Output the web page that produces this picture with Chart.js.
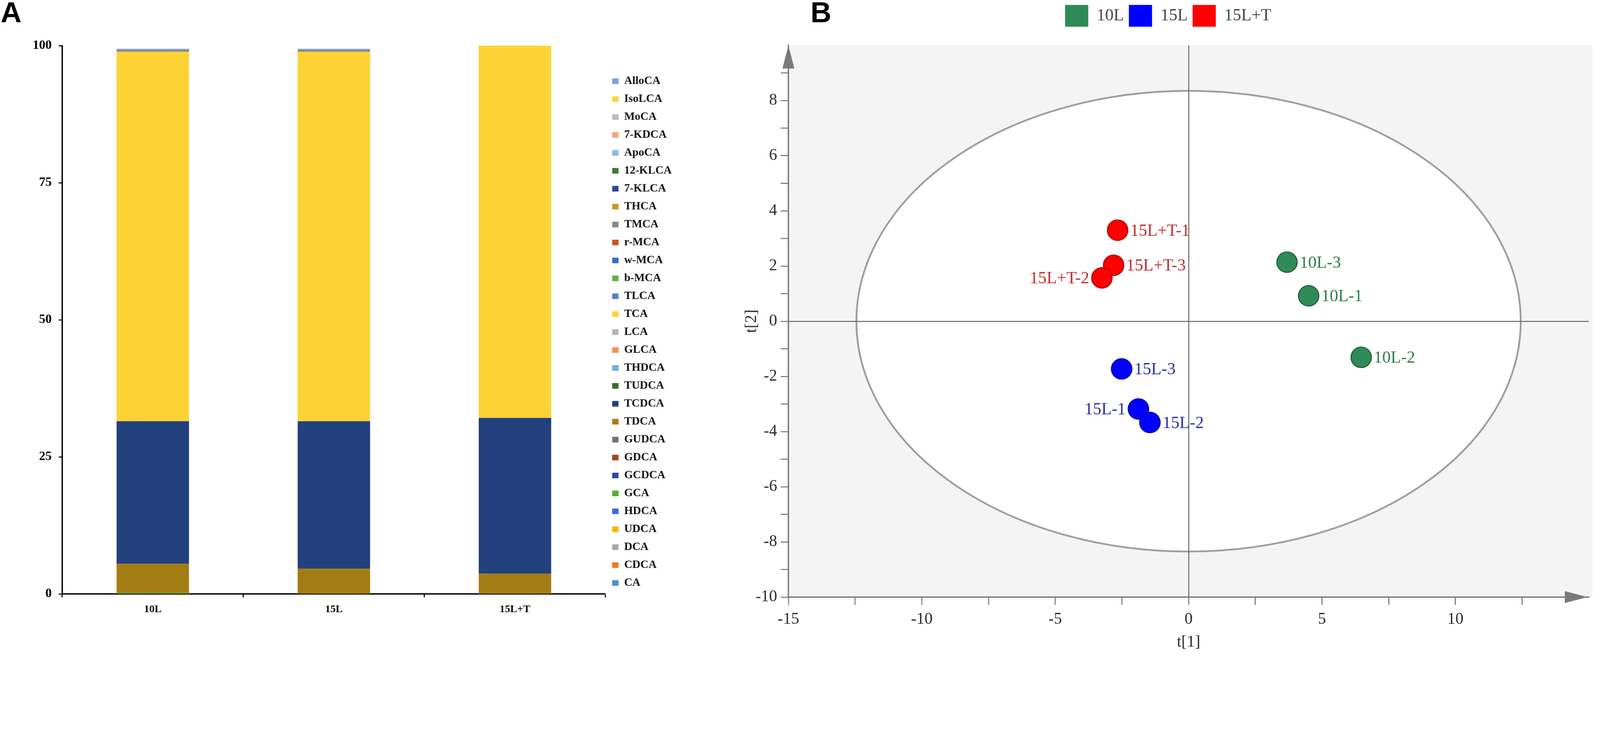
<!DOCTYPE html>
<html>
<head>
<meta charset="utf-8">
<script src="https://cdn.jsdelivr.net/npm/chart.js@4.4.0/dist/chart.umd.min.js"></script>
<style>
html,body{margin:0;padding:0;background:#fff;overflow:hidden}
#wrap{position:absolute;left:0;top:0;width:4550px;height:1870px;transform-origin:0 0}
canvas{position:absolute;top:0}
#chartA{left:0}
#chartB{left:2110px}
.panel{position:absolute;font-family:'Liberation Sans',Arial,sans-serif;font-weight:bold;font-size:82px;line-height:1}
</style>
</head>
<body>
<div id="wrap">
<div class="panel" style="left:2px;top:-6px">A</div>
<div class="panel" style="left:2305px;top:-6px">B</div>
<canvas id="chartA" width="1920" height="1870"></canvas>
<canvas id="chartB" width="2440" height="1870"></canvas>
</div>
<script>
// fit the 4550x1870 layout into whatever viewport we get
const fitK = Math.min(window.innerWidth / 4550, window.innerHeight / 1870)
document.getElementById('wrap').style.transform = 'scale(' + fitK + ')'

// ---- panel A data (stack order: bottom -> top)
const groups = ['10L', '15L', '15L+T']

const acids = [
  'CA','CDCA','DCA','UDCA','HDCA','GCA','GCDCA','GDCA','GUDCA','TDCA',
  'TCDCA','TUDCA','THDCA','GLCA','LCA','TCA','TLCA','b-MCA','w-MCA','r-MCA',
  'TMCA','THCA','7-KLCA','12-KLCA','ApoCA','7-KDCA','MoCA','IsoLCA','AlloCA'
]

const acidColors = [
  '#4a8fd0','#f07a22','#a8a8a8','#f5b800','#3f6ad8','#5aa83a','#2e4c9c','#a04a1a','#727272','#a47c14',
  '#22407c','#3f6a30','#6aaee0','#f0945a','#b4b4b4','#fdd235','#5b80cc','#6aac48','#2f6fc8','#d2541c',
  '#888888','#c09a20','#2a4a9a','#3d7a3d','#8fb8e6','#f0a880','#bcbcbc','#f5d640','#7aa0d8'
]

const share10L = [
  0,0,0,0,0,0.15,0,0,0,5.35,
  26.0,0,0,0,0,67.4,0,0,0,0,
  0.4,0,0,0,0.15,0,0,0,0
]
const share15L = [
  0,0,0,0,0,0,0,0,0,4.6,
  26.9,0,0,0,0,67.4,0,0,0,0,
  0.4,0,0,0,0.15,0,0,0,0
]
const share15LT = [
  0,0,0,0,0,0,0,0,0,3.7,
  28.4,0,0,0,0,67.9,0,0,0,0,
  0,0,0,0,0,0,0,0,0
]

// ---- panel B data (scores t[1], t[2])
const names10L = ['10L-1','10L-2','10L-3']
const t1_10L = [4.50, 6.47, 3.69]
const t2_10L = [0.92, -1.31, 2.14]

const names15L = ['15L-3','15L-1','15L-2']
const t1_15L = [-2.51, -1.88, -1.45]
const t2_15L = [-1.73, -3.18, -3.67]

const names15LT = ['15L+T-1','15L+T-3','15L+T-2']
const t1_15LT = [-2.66, -2.81, -3.25]
const t2_15LT = [3.30, 2.03, 1.57]

// Hotelling T2 ellipse semi axes
const ellipseT1 = 12.45
const ellipseT2 = 8.35

const leftLabelled = ['15L+T-2','15L-1']

Chart.defaults.font.family = '"Liberation Serif", "Times New Roman", serif'
Chart.defaults.animation = false

// 柱状图
const ctxA = document.getElementById('chartA')

new Chart(ctxA, {
  type:'bar',
  data:{
    labels: groups,
    datasets: acids.map((name, i) => ({
      label: name,
      data: [share10L[i], share15L[i], share15LT[i]],
      backgroundColor: acidColors[i],
      borderWidth: 0,
      barPercentage: 0.4,
      categoryPercentage: 1
    }))
  },
  options:{
    responsive:false,
    devicePixelRatio:1,
    layout:{ padding:{ top:130, bottom:110 } },
    plugins:{
      tooltip:{ enabled:false },
      legend:{
        position:'right',
        reverse:true,
        labels:{
          boxWidth:18,
          boxHeight:16,
          padding:19,
          color:'#111',
          font:{ size:32, weight:'bold' }
        }
      }
    },
    scales:{
      x:{
        stacked:true,
        grid:{ drawOnChartArea:false, color:'#000', tickLength:10, tickWidth:3 },
        border:{ color:'#000', width:4 },
        ticks:{ color:'#000', padding:16, font:{ size:30, weight:'bold' } },
        afterFit(s){ s.height = 70 }
      },
      y:{
        stacked:true,
        min:0,
        max:100,
        grid:{ drawOnChartArea:false, color:'#000', tickLength:10, tickWidth:3 },
        border:{ color:'#000', width:4 },
        ticks:{ stepSize:25, color:'#000', padding:20, font:{ size:36, weight:'bold' } },
        afterFit(s){ s.width = 177 }
      }
    }
  }
})

// 得分图
const legendGap = {
  id:'legendGap',
  afterInit(chart){
    const fit = chart.legend.fit
    chart.legend.fit = function(){
      fit.call(this)
      this.height += 43
    }
  }
}

const ellipseBg = {
  id:'ellipseBg',
  beforeDraw(chart){
    const {ctx, chartArea:a, scales} = chart
    const cx = scales.x.getPixelForValue(0)
    const cy = scales.y.getPixelForValue(0)
    const rx = scales.x.getPixelForValue(ellipseT1) - cx
    const ry = cy - scales.y.getPixelForValue(ellipseT2)
    ctx.save()
    ctx.fillStyle = '#f4f4f4'
    ctx.fillRect(a.left, a.top, a.right - a.left + 10, a.bottom - a.top)
    ctx.beginPath()
    ctx.ellipse(cx, cy, rx, ry, 0, 0, Math.PI * 2)
    ctx.fillStyle = '#fff'
    ctx.fill()
    ctx.lineWidth = 5
    ctx.strokeStyle = '#9c9c9c'
    ctx.stroke()
    ctx.restore()
  },
  afterDraw(chart){
    const {ctx, chartArea:a} = chart
    ctx.save()
    ctx.fillStyle = '#7a7a7a'
    ctx.beginPath()
    ctx.moveTo(a.left, a.top)
    ctx.lineTo(a.left - 17, a.top + 66)
    ctx.lineTo(a.left + 17, a.top + 66)
    ctx.closePath()
    ctx.fill()
    ctx.beginPath()
    ctx.moveTo(a.right - 4, a.bottom)
    ctx.lineTo(a.right - 68, a.bottom - 17)
    ctx.lineTo(a.right - 68, a.bottom + 17)
    ctx.closePath()
    ctx.fill()
    ctx.restore()
  }
}

const pointLabels = {
  id:'pointLabels',
  afterDatasetsDraw(chart){
    const ctx = chart.ctx
    ctx.save()
    ctx.font = '48px "Liberation Serif"'
    ctx.textBaseline = 'middle'
    chart.data.datasets.forEach((ds, di) => {
      chart.getDatasetMeta(di).data.forEach((pt, i) => {
        const name = ds.names[i]
        const left = leftLabelled.includes(name)
        ctx.fillStyle = ds.textColor
        ctx.textAlign = left ? 'right' : 'left'
        ctx.fillText(name, pt.x + (left ? -36 : 36), pt.y + 3)
      })
    })
    ctx.restore()
  }
}

const toPoints = (xs, ys) => xs.map((x, i) => ({ x: x, y: ys[i] }))

const ctxB = document.getElementById('chartB')

new Chart(ctxB, {
  type:'scatter',
  data:{
    datasets:[
      {
        label:'10L',
        names:names10L,
        data:toPoints(t1_10L, t2_10L),
        backgroundColor:'#2e8b57',
        borderColor:'#1e5e3a',
        textColor:'#2e7a4e'
      },
      {
        label:'15L',
        names:names15L,
        data:toPoints(t1_15L, t2_15L),
        backgroundColor:'#0000ff',
        borderColor:'#0000a8',
        textColor:'#2b2ba8'
      },
      {
        label:'15L+T',
        names:names15LT,
        data:toPoints(t1_15LT, t2_15LT),
        backgroundColor:'#ff0000',
        borderColor:'#b00000',
        textColor:'#c42a2a'
      }
    ]
  },
  options:{
    responsive:false,
    devicePixelRatio:1,
    layout:{ padding:{ right:16 } },
    elements:{ point:{ radius:29, borderWidth:3, hoverRadius:29 } },
    plugins:{
      tooltip:{ enabled:false },
      legend:{
        position:'top',
        labels:{
          boxWidth:66,
          boxHeight:62,
          padding:14,
          color:'#444',
          font:{ size:48 },
          generateLabels(chart){
            return Chart.defaults.plugins.legend.labels.generateLabels(chart)
              .map(l => Object.assign(l, { lineWidth:0 }))
          }
        }
      }
    },
    scales:{
      x:{
        type:'linear',
        min:-15,
        max:15,
        grid:{
          color: c => c.tick && c.tick.value === 0 ? '#6e6e6e' : 'rgba(0,0,0,0)',
          lineWidth:3,
          tickColor: c => c.tick && c.tick.value === 15 ? 'rgba(0,0,0,0)' : '#7a7a7a',
          tickLength:22,
          tickWidth:3
        },
        border:{ color:'#7a7a7a', width:4 },
        ticks:{
          stepSize:2.5,
          color:'#2a2a2a',
          padding:14,
          font:{ size:46 },
          callback: v => (v % 5 === 0 && v !== 15) ? v : ''
        },
        title:{ display:true, text:'t[1]', color:'#2a2a2a', font:{ size:46 }, padding:{ top:0, bottom:14 } },
        afterFit(s){ s.height = 171 }
      },
      y:{
        min:-10,
        max:10,
        grid:{
          color: c => c.tick && c.tick.value === 0 ? '#6e6e6e' : 'rgba(0,0,0,0)',
          lineWidth:3,
          tickColor: c => c.tick && c.tick.value === 10 ? 'rgba(0,0,0,0)' : '#7a7a7a',
          tickLength:22,
          tickWidth:3
        },
        border:{ color:'#7a7a7a', width:4 },
        ticks:{
          stepSize:1,
          color:'#2a2a2a',
          padding:10,
          font:{ size:46 },
          callback: v => (v % 2 === 0 && v !== 10) ? v : ''
        },
        title:{ display:true, text:'t[2]', color:'#2a2a2a', font:{ size:46 }, padding:{ top:0, bottom:0 } },
        afterFit(s){ s.width = 132 }
      }
    }
  },
  plugins:[legendGap, ellipseBg, pointLabels]
})
</script>
</body>
</html>
